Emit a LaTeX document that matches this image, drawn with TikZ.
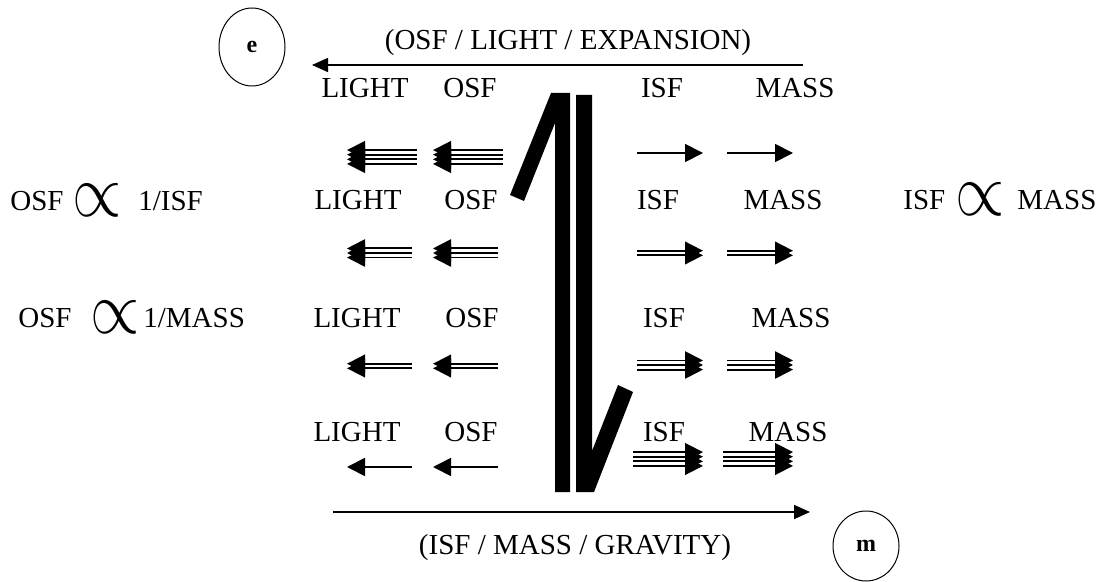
\documentclass[tikz,border=0pt]{standalone}
\usepackage{fontspec}
\setmainfont{Liberation Serif}
\usepackage{graphicx}
\usetikzlibrary{shapes.geometric, arrows.meta, positioning}
\tikzset{
    lbl/.style={font=\fontsize{14.5}{16}\selectfont, inner sep=0pt},
    prop/.style={inner sep=0pt, font=\fontsize{14.5}{16}\selectfont},
    ring/.style={ellipse, draw, line width=0.5pt, inner sep=0pt, font=\fontsize{12}{14}\selectfont\bfseries},
    arr/.style={-{Triangle[length=9pt, width=9pt]}, line width=0.9pt},
    flowarr/.style={-{Triangle[length=8pt, width=7pt]}, line width=0.8pt},
    bar/.style={fill=black},
}
% bundle of parallel arrows: from, to, number of lines
\newcommand{\bundle}[3]{%
  \foreach \k in {1,...,#3}{
    \draw[arr] ([yshift={(\k-(#3+1)/2)*2.3pt}]#1) -- ([yshift={(\k-(#3+1)/2)*2.3pt}]#2);
  }}
\newcommand{\propsym}{\scalebox{2.2}[2.6]{$\propto$}}

\begin{document}
\begin{tikzpicture}[x=0.5pt, y=-0.5pt]
\useasboundingbox (0,0) rectangle (1101,582);

% ── Circles ──
\node[ring, minimum width=33pt, minimum height=39pt] (e) at (252,47) {e};
\node[ring, minimum width=33pt, minimum height=35pt] (m) at (866,546) {m};

% ── Top and bottom flow ──
\coordinate (topR) at (803,65);
\coordinate (topL) at (312,65);
\draw[flowarr] (topR) -- (topL);
\node[lbl] (toptxt) at (568,43) {(OSF / LIGHT / EXPANSION)};
\coordinate (botL) at (333,512);
\coordinate (botR) at (810,512);
\draw[flowarr] (botL) -- (botR);
\node[lbl] (bottxt) at (575,548) {(ISF / MASS / GRAVITY)};

% ── Row labels ──
\node[lbl] (l1) at (365,88) {LIGHT};
\node[lbl] (o1) at (470,88) {OSF};
\node[lbl] (i1) at (662,88) {ISF};
\node[lbl] (m1) at (795,88) {MASS};
\node[lbl] (l2) at (358,200) {LIGHT};
\node[lbl] (o2) at (471,200) {OSF};
\node[lbl] (i2) at (658,200) {ISF};
\node[lbl] (m2) at (783,200) {MASS};
\node[lbl] (l3) at (357,318) {LIGHT};
\node[lbl] (o3) at (472,318) {OSF};
\node[lbl] (i3) at (664,318) {ISF};
\node[lbl] (m3) at (791,318) {MASS};
\node[lbl] (l4) at (357,432) {LIGHT};
\node[lbl] (o4) at (471,432) {OSF};
\node[lbl] (i4) at (664,432) {ISF};
\node[lbl] (m4) at (788,432) {MASS};

% ── Row 1 arrows ──
\coordinate (a1s) at (417,157); \coordinate (a1e) at (347,157);
\coordinate (b1s) at (503,157); \coordinate (b1e) at (433,157);
\coordinate (c1s) at (637,153); \coordinate (c1e) at (703,153);
\coordinate (d1s) at (727,153); \coordinate (d1e) at (793,153);
\bundle{a1s}{a1e}{4} \bundle{b1s}{b1e}{4}
\bundle{c1s}{c1e}{1} \bundle{d1s}{d1e}{1}

% ── Row 2 arrows ──
\coordinate (a2s) at (412,253); \coordinate (a2e) at (347,253);
\coordinate (b2s) at (498,253); \coordinate (b2e) at (433,253);
\coordinate (c2s) at (637,253); \coordinate (c2e) at (703,253);
\coordinate (d2s) at (727,253); \coordinate (d2e) at (793,253);
\bundle{a2s}{a2e}{3} \bundle{b2s}{b2e}{3}
\bundle{c2s}{c2e}{2} \bundle{d2s}{d2e}{2}

% ── Row 3 arrows ──
\coordinate (a3s) at (412,366); \coordinate (a3e) at (347,366);
\coordinate (b3s) at (498,366); \coordinate (b3e) at (433,366);
\coordinate (c3s) at (637,365); \coordinate (c3e) at (703,365);
\coordinate (d3s) at (727,365); \coordinate (d3e) at (793,365);
\bundle{a3s}{a3e}{2} \bundle{b3s}{b3e}{2}
\bundle{c3s}{c3e}{3} \bundle{d3s}{d3e}{3}

% ── Row 4 arrows ──
\coordinate (a4s) at (412,467); \coordinate (a4e) at (347,467);
\coordinate (b4s) at (498,467); \coordinate (b4e) at (433,467);
\coordinate (c4s) at (633,459); \coordinate (c4e) at (703,459);
\coordinate (d4s) at (723,459); \coordinate (d4e) at (793,459);
\bundle{a4s}{a4e}{1} \bundle{b4s}{b4e}{1}
\bundle{c4s}{c4e}{4} \bundle{d4s}{d4e}{4}

% ── Central harpoons ──
\fill[bar] (551,93) -- (570,93) -- (570,492) -- (555,492) -- (555,123) -- (524,201) -- (510,195) -- cycle;
\fill[bar] (576,95) -- (592,95) -- (592,451) -- (618,385) -- (633,392) -- (594,492) -- (576,492) -- cycle;

% ── Proportionality ──
\node[lbl, anchor=west] (p1a) at (10,201) {OSF};
\node[prop] (p1b) at (97,200) {\propsym};
\node[lbl, anchor=west] (p1c) at (138,201) {1/ISF};
\node[lbl, anchor=west] (p2a) at (18,318) {OSF};
\node[prop] (p2b) at (115,317) {\propsym};
\node[lbl, anchor=west] (p2c) at (143,318) {1/MASS};
\node[lbl, anchor=west] (p3a) at (903,200) {ISF};
\node[prop] (p3b) at (980,199) {\propsym};
\node[lbl, anchor=west] (p3c) at (1017,200) {MASS};

\end{tikzpicture}
\end{document}
